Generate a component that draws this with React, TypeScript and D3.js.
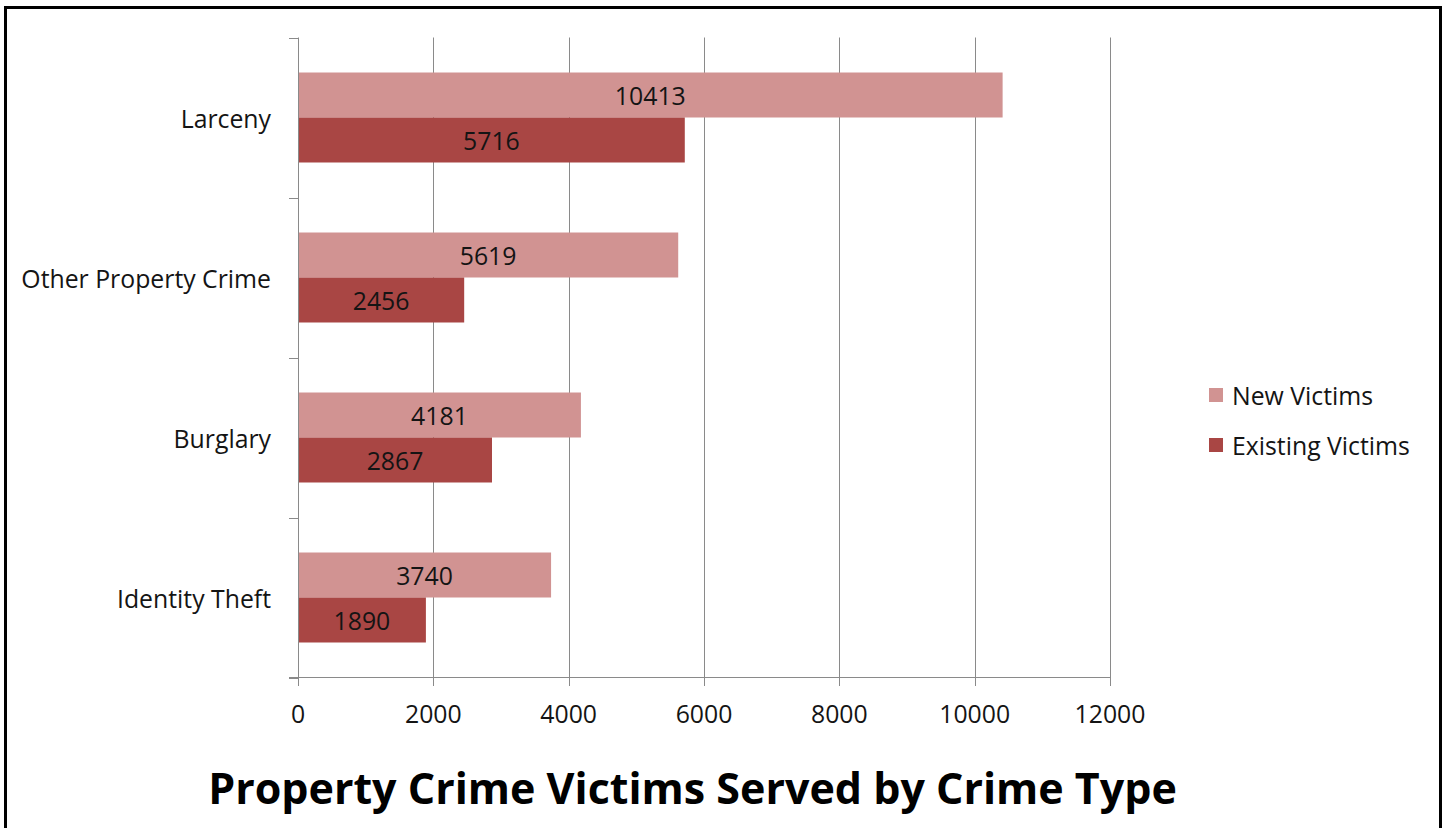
import React from "react";
import * as d3 from "d3";

const categories = ["Larceny", "Other Property Crime", "Burglary", "Identity Theft"];
const newVictims = [10413, 5619, 4181, 3740];
const existingVictims = [5716, 2456, 2867, 1890];
const xTicks = [0, 2000, 4000, 6000, 8000, 10000, 12000];
const seriesNames = ["New Victims", "Existing Victims"];
const seriesColors = ["#D19392", "#A94644"];
const title = "Property Crime Victims Served by Crime Type";

const W = 1445;
const H = 828;
const FONT = "'Open Sans', sans-serif";

export default function App() {
  const x = d3.scaleLinear().domain([0, 12000]).range([298, 1110]);
  const y = d3.scaleBand<string>().domain(categories).range([37.5, 677.5]).paddingInner(0).paddingOuter(0);
  const inner = d3.scaleBand<string>().domain(seriesNames).range([0, y.bandwidth()]).paddingInner(0).paddingOuter(0.778);
  const series = [newVictims, existingVictims];
  const boundaries = categories.map((c) => y(c)!).concat([677.5]);
  const gridColor = "#8a8a8a";
  const textColor = "#141414";
  const fs = 24.8;

  return (
    <svg width={W} height={H} style={{ position: "absolute", left: 0, top: 0, background: "#fff" }} fontFamily={FONT}>
      <rect x={0} y={0} width={W} height={H} fill="#fff" />
      {/* border */}
      <path d={`M5.5,${H + 5} V7.5 H1440.5 V${H + 5}`} fill="none" stroke="#000" strokeWidth={3} />
      {/* gridlines */}
      {xTicks.slice(1).map((t) => (
        <line key={"g" + t} x1={Math.round(x(t)) + 0.5} x2={Math.round(x(t)) + 0.5} y1={37.5} y2={686} stroke={gridColor} strokeWidth={1} />
      ))}
      {/* bars */}
      {categories.map((c, i) =>
        series.map((s, j) => {
          const by = y(c)! + inner(seriesNames[j])!;
          const bw = inner.bandwidth();
          return (
            <g key={c + j}>
              <rect x={x(0)} y={by} width={x(s[i]) - x(0)} height={bw} fill={seriesColors[j]} />
              <text
                x={(x(0) + x(s[i])) / 2}
                y={by + bw / 2}
                textAnchor="middle"
                dominantBaseline="central"
                fontSize={fs}
                fill={textColor}
              >
                {s[i]}
              </text>
            </g>
          );
        })
      )}
      {/* y axis */}
      <line x1={298.5} x2={298.5} y1={37.5} y2={686} stroke={gridColor} strokeWidth={1} />
      {boundaries.map((b, i) => (
        <line key={"yt" + i} x1={289} x2={298.5} y1={Math.round(b) + 0.5} y2={Math.round(b) + 0.5} stroke={gridColor} strokeWidth={1} />
      ))}
      {/* x axis */}
      <line x1={289} x2={1110.5} y1={677.5} y2={677.5} stroke={gridColor} strokeWidth={1} />
      {categories.map((c) => (
        <text key={"yl" + c} x={271} y={y(c)! + y.bandwidth() / 2} textAnchor="end" dominantBaseline="central" fontSize={fs} fill={textColor}>
          {c}
        </text>
      ))}
      {xTicks.map((t) => (
        <text key={"xl" + t} x={x(t)} y={713} textAnchor="middle" dominantBaseline="central" fontSize={fs} fill={textColor}>
          {t}
        </text>
      ))}
      {/* legend */}
      {seriesNames.map((n, j) => (
        <g key={"lg" + n} transform={`translate(1209, ${388 + j * 50})`}>
          <rect x={0} y={0} width={14} height={14} fill={seriesColors[j]} />
          <text x={23} y={7} dominantBaseline="central" fontSize={fs} fill={textColor}>
            {n}
          </text>
        </g>
      ))}
      {/* title */}
      <text x={692.5} y={787} textAnchor="middle" dominantBaseline="central" fontSize={43} fontWeight="bold" fill="#000">
        {title}
      </text>
    </svg>
  );
}
